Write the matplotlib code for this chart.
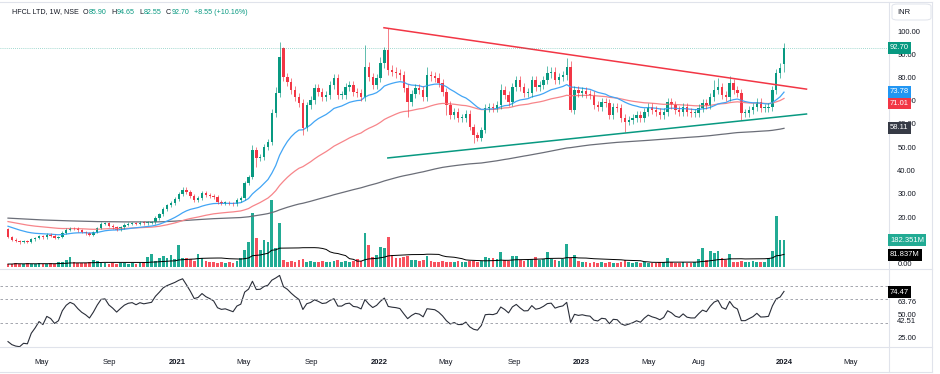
import numpy as np
import pandas as pd
import matplotlib
matplotlib.use('Agg')
import matplotlib.pyplot as plt
from matplotlib.lines import Line2D
from matplotlib.patches import FancyBboxPatch

plt.rcParams['font.family'] = ['Liberation Sans', 'DejaVu Sans']

# Velas semanales HFCL (NSE), de marzo 2020 a enero 2024
fechas = pd.date_range('2020-03-02', periods=201, freq='W-MON')

cierres = [
    11.5, 10.3, 9.6, 9.3, 9.6, 9.4, 10.4, 11.0, 11.8, 11.2,
    12.4, 12.0, 11.0, 11.4, 13.2, 14.5, 15.3, 15.0, 14.2, 13.5,
    13.0, 12.3, 13.5, 15.3, 17.2, 17.4, 16.2, 15.5, 14.6, 15.6,
    16.6, 17.2, 17.4, 17.0, 17.6, 17.4, 17.6, 17.8, 19.6, 21.2,
    23.5, 25.0, 26.2, 27.6, 29.8, 31.8, 30.6, 29.2, 27.4, 28.0,
    30.3, 29.5, 29.0, 28.4, 26.5, 26.0, 26.2, 25.8, 25.4, 27.3,
    28.0, 34.6, 37.2, 48.8, 45.4, 45.8, 50.0, 52.3, 64.7, 73.3,
    88.8, 80.2, 78.0, 74.6, 71.6, 69.0, 58.3, 68.0, 70.3, 75.5,
    73.8, 71.6, 72.5, 76.8, 79.8, 72.5, 72.5, 75.9, 76.8, 73.8,
    73.3, 71.6, 84.5, 80.2, 76.8, 79.8, 86.2, 91.8, 83.2, 82.4,
    81.9, 81.0, 75.5, 69.5, 73.0, 75.5, 74.6, 71.6, 81.0, 80.5,
    80.0, 77.6, 73.8, 68.2, 63.9, 65.2, 62.6, 62.6, 64.5, 58.7,
    55.3, 54.0, 57.4, 66.9, 67.3, 67.0, 68.2, 74.6, 72.5, 69.5,
    75.9, 78.9, 75.9, 73.3, 73.5, 78.9, 75.9, 76.8, 78.9, 81.9,
    82.4, 78.9, 80.2, 81.0, 84.5, 66.0, 74.6, 73.3, 74.0, 73.0,
    72.5, 68.2, 67.3, 69.5, 69.0, 63.9, 67.3, 66.9, 62.6, 60.9,
    61.7, 62.6, 63.9, 62.6, 65.2, 67.3, 66.0, 65.2, 63.9, 65.2,
    69.5, 68.2, 66.0, 65.2, 67.3, 65.2, 64.7, 64.7, 66.9, 69.0,
    68.2, 71.6, 74.6, 75.9, 72.5, 71.6, 77.6, 74.6, 73.3, 64.7,
    64.7, 66.0, 67.3, 69.5, 66.9, 67.0, 67.3, 74.6, 81.9, 84.15,
    92.70,
]
# aperturas distintas al cierre anterior
aperturas_extra = {0: 14.7, 71: 92.5, 200: 85.90}
# mechas largas
maximos_extra = {63: 51.0, 68: 66.5, 69: 76.0, 70: 95.3, 71: 93.2, 92: 94.0, 96: 89.0,
                 97: 93.0, 98: 101.4, 108: 84.5, 127: 77.0, 139: 85.0, 144: 88.4,
                 145: 87.3, 182: 79.0, 183: 79.8, 186: 80.5, 200: 94.65}
minimos_extra = {3: 8.6, 64: 41.5, 76: 55.3, 103: 63.0, 113: 64.0, 120: 51.8, 121: 52.5,
                 145: 65.0, 159: 56.5, 189: 61.7, 200: 82.55}

# Volumen (millones)
volumen = [
    20, 20, 27, 20, 20, 27, 20, 20, 27, 20,
    20, 27, 20, 34, 34, 45, 65, 34, 27, 27,
    27, 34, 50, 40, 27, 27, 20, 27, 20, 27,
    27, 20, 27, 20, 27, 34, 68, 86, 40, 63,
    74, 60, 79, 56, 147, 63, 63, 56, 40, 86,
    63, 40, 34, 34, 27, 34, 27, 34, 27, 40,
    61, 115, 169, 365, 196, 115, 182, 169, 452, 128,
    297, 47, 34, 40, 34, 47, 54, 34, 40, 34,
    34, 40, 34, 34, 40, 47, 34, 40, 34, 40,
    54, 40, 230, 149, 68, 81, 135, 128, 203, 81,
    61, 61, 68, 74, 47, 47, 40, 47, 74, 40,
    34, 34, 40, 34, 34, 34, 40, 34, 34, 40,
    40, 34, 40, 68, 61, 61, 54, 101, 47, 40,
    74, 74, 47, 40, 47, 54, 68, 47, 54, 101,
    54, 47, 40, 54, 155, 61, 81, 40, 34, 34,
    27, 34, 27, 34, 27, 34, 27, 27, 34, 47,
    34, 27, 34, 27, 34, 27, 27, 27, 34, 34,
    61, 34, 27, 27, 34, 27, 27, 34, 54, 128,
    47, 108, 95, 108, 61, 47, 88, 34, 34, 40,
    34, 34, 40, 34, 34, 34, 61, 108, 344, 182,
    182.351,
]

# Valores iniciales de las medias (vienen de antes del grafico)
semilla_ema20 = 16.5
semilla_ema50 = 18.3
semilla_gris = 19.6

# Lineas de tendencia (indice de vela, precio)
linea_roja = [(96.9, 101.4), (205.8, 75.0)]
linea_verde = [(97.9, 45.4), (205.8, 64.3)]

etiquetas_x = [('2020-05-01', 'May'), ('2020-09-01', 'Sep'), ('2021-01-01', '2021'),
               ('2021-05-01', 'May'), ('2021-09-01', 'Sep'), ('2022-01-01', '2022'),
               ('2022-05-01', 'May'), ('2022-09-01', 'Sep'), ('2023-01-01', '2023'),
               ('2023-05-01', 'May'), ('2023-08-01', 'Aug'), ('2024-01-01', '2024'),
               ('2024-05-01', 'May')]

verde = '#089981'
rojo = '#f23645'
texto = '#131722'
borde = '#e0e3eb'

# ---------------------------- calculos ----------------------------
n = len(cierres)
idx = np.arange(n)
c = np.array(cierres, dtype=float)
o = np.r_[c[0], c[:-1]]
for k, v in aperturas_extra.items():
    o[k] = v
h = np.maximum(o, c) * 1.02 + 0.3
l = np.minimum(o, c) * 0.98 - 0.3
for k, v in maximos_extra.items():
    h[k] = v
for k, v in minimos_extra.items():
    l[k] = v
sube = c >= o
col = np.where(sube, verde, rojo)

ema20 = pd.Series([semilla_ema20] + cierres).ewm(span=20, adjust=False).mean().values[1:]
ema50 = pd.Series([semilla_ema50] + cierres).ewm(span=50, adjust=False).mean().values[1:]
gris = pd.Series([semilla_gris] + cierres).ewm(span=200, adjust=False).mean().values[1:]
vol = np.array(volumen)
vol_ma = pd.Series(vol).rolling(20, min_periods=1).mean().values

# RSI de Wilder (14)
dif = np.diff(c, prepend=c[0])
ag, al = 0.1, 0.4
rsi = []
for g, p in zip(np.clip(dif, 0, None), np.clip(-dif, 0, None)):
    ag = ag + (g - ag) / 14
    al = al + (p - al) / 14
    rsi.append(100 - 100 / (1 + ag / al))
rsi = np.array(rsi)

# ---------------------------- figura ----------------------------
W, H = 940, 374
fig = plt.figure(figsize=(W / 100, H / 100), dpi=100)
x_izq = -8 / 3.88
x_der = (889 - 8) / 3.88

ax = fig.add_axes([0, (H - 269) / H, 889 / W, 267 / H])
ax_v = ax.twinx()
ax_r = fig.add_axes([0, (H - 347) / H, 889 / W, 77 / H])

# volumen por debajo
ax_v.bar(idx, vol, width=0.7, color=np.where(sube, '#22ab94', '#f7525f'), zorder=1)
ax_v.plot(idx, vol_ma, color='#000000', lw=0.7)
ax_v.set_ylim(-13.5, 1790)
ax_v.set_yticks([])
ax.set_zorder(ax_v.get_zorder() + 1)
ax.patch.set_visible(False)

# medias moviles
ax.plot(idx, gris, color='#6b6e78', lw=0.9)
ax.plot(idx, ema50, color='#f7858a', lw=0.9)
ax.plot(idx, ema20, color='#42a5f5', lw=0.9)

# velas
ax.vlines(idx, l, h, colors=col, lw=0.6, alpha=0.75)
ax.bar(idx, np.maximum(np.abs(c - o), 0.35), bottom=np.minimum(o, c), width=0.62, color=col)

# lineas de tendencia
ax.plot(*zip(*linea_roja), color=rojo, lw=1.1)
ax.plot(*zip(*linea_verde), color=verde, lw=1.1)
ax.axhline(c[-1], color=verde, lw=0.6, ls=(0, (1, 1.5)), alpha=0.5)

ax.set_xlim(x_izq, x_der)
ax.set_ylim((263.5 - 269) / 2.325, (263.5 - 2) / 2.325)
ax.yaxis.tick_right()
ax.set_yticks(np.arange(0, 101, 10))
ax.set_yticklabels(['%.2f' % v for v in np.arange(0, 101, 10)])
ax.tick_params(axis='y', length=0, pad=6, labelsize=5.5, labelcolor=texto)
ax.set_xticks([])
for a in (ax, ax_v, ax_r):
    for s in a.spines.values():
        s.set_visible(False)

# RSI
ax_r.plot(idx, rsi, color='#2a2e39', lw=0.8)
for nivel in (80, 66, 40):
    ax_r.axhline(nivel, color='#9598a1', lw=0.6, ls=(0, (3, 3)))
ax_r.set_xlim(x_izq, x_der)
ax_r.set_ylim(14.13, 97.83)
ax_r.yaxis.tick_right()
ax_r.set_yticks([25, 42.51, 50, 63.76])
ax_r.set_yticklabels(['25.00', '42.51', '50.00', '63.76'])
ax_r.tick_params(axis='y', length=0, pad=6, labelsize=5.5, labelcolor=texto)

inicio = fechas[0]
pos = [(pd.Timestamp(d) - inicio).days / 7 for d, _ in etiquetas_x]
ax_r.set_xticks(pos)
ax_r.set_xticklabels([t for _, t in etiquetas_x])
ax_r.tick_params(axis='x', length=0, pad=9, labelsize=5.5, labelcolor=texto)
for t in ax_r.get_xticklabels():
    if t.get_text().isdigit():
        t.set_fontweight('bold')

# cajas con el ultimo valor (en pixeles de la figura, encima de todo)
def caja(y_px, txt, fondo):
    fig.text(890 / W, 1 - y_px / H, txt, fontsize=5.5, color='white', va='center', ha='left',
             bbox=dict(boxstyle='square,pad=0.3', fc=fondo, ec='none'), zorder=10)

def px_precio(p):
    return 263.5 - 2.325 * p

def px_vol(v):
    return 267 - 0.148 * v

def px_rsi(v):
    return 268 + (100 - v) * 0.92

caja(px_precio(c[-1]), '%.2f' % c[-1], verde)
caja(px_precio(73.8), '73.78', '#2196f3')
caja(px_precio(68.8), '71.01', rojo)
caja(px_precio(58.3), '58.11', '#363a45')
caja(px_vol(vol[-1]), '182.351M', '#22ab94')
caja(px_vol(81.8), '81.837M', '#000000')
caja(px_rsi(73.9), '74.47', '#000000')

# leyenda superior, colocada pieza a pieza
piezas = [('HFCL LTD, 1W, NSE', texto, 4), ('O', texto, 0.8), ('85.90', verde, 4),
          ('H', texto, 0.8), ('94.65', verde, 4), ('L', texto, 0.8), ('82.55', verde, 4),
          ('C', texto, 0.8), ('92.70', verde, 4), ('+8.55 (+10.16%)', verde, 0)]
rend = fig.canvas.get_renderer()
x = 12
for s, cc, gap in piezas:
    t = fig.text(x / W, 1 - 12 / H, s, fontsize=5.1, color=cc, va='center', ha='left')
    x += t.get_window_extent(rend).width + gap

# caja de moneda
fig.add_artist(FancyBboxPatch((892 / W, 1 - 20 / H), 39 / W, 16 / H,
                              boxstyle='round,pad=0,rounding_size=0.006',
                              transform=fig.transFigure, fc='white', ec=borde, lw=0.7))
fig.text(897 / W, 1 - 12 / H, 'INR', fontsize=5.5, color=texto, va='center', ha='left')

# bordes de paneles
for y in (2, 269, 347, 372):
    fig.add_artist(Line2D([0, 932 / W], [1 - y / H, 1 - y / H], color=borde, lw=0.8))
for x in (889, 932):
    fig.add_artist(Line2D([x / W, x / W], [1 - 2 / H, 1 - 372 / H], color=borde, lw=0.8))

fig.savefig('out.png', dpi=100)
